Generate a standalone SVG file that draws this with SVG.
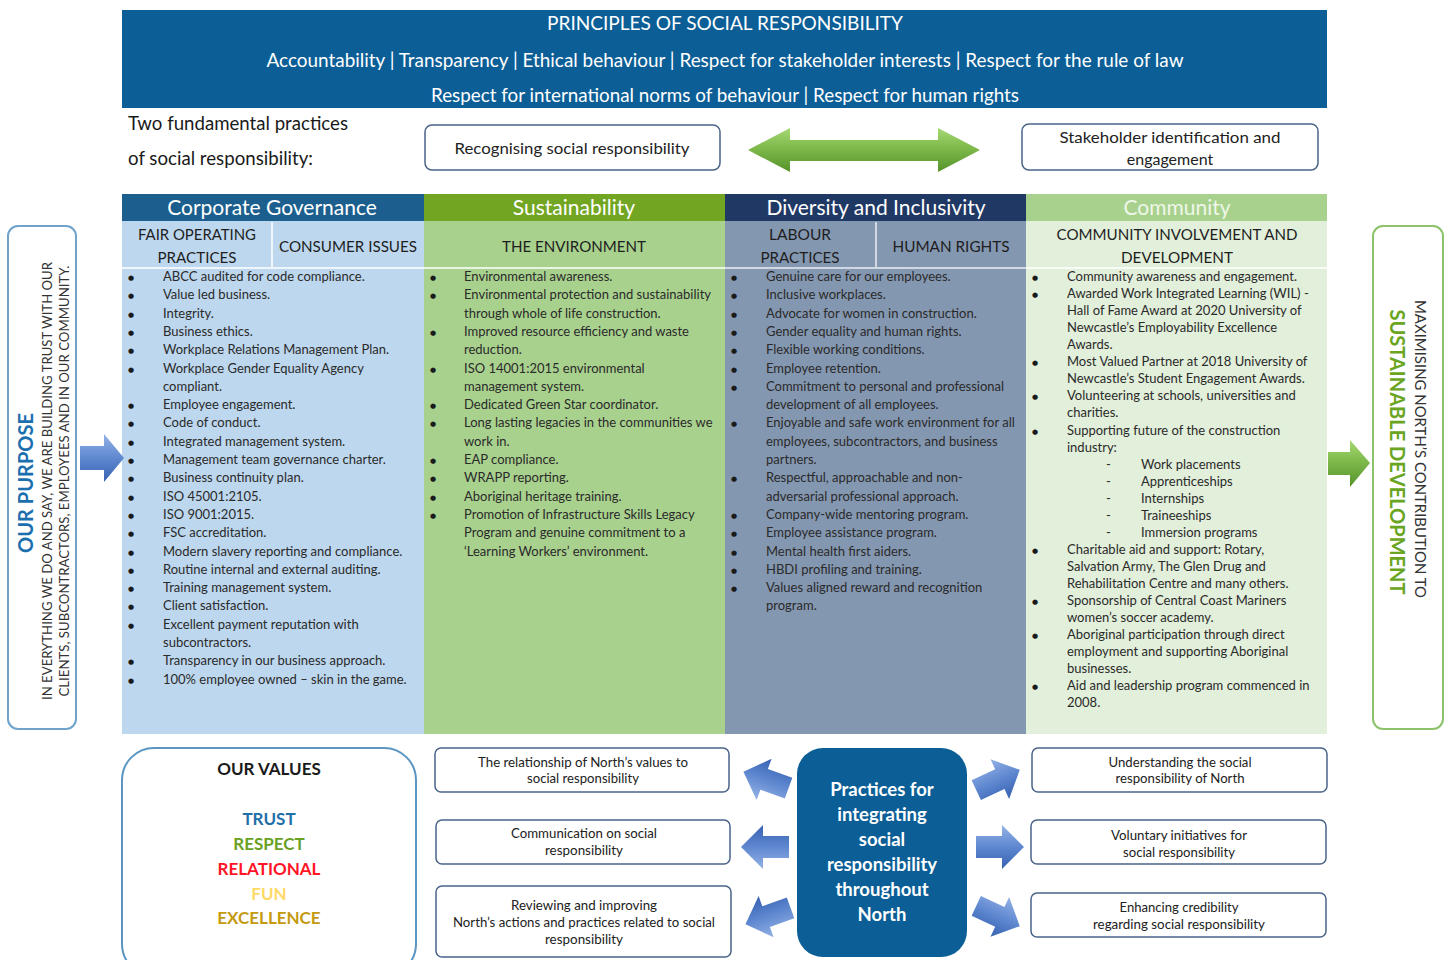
<svg xmlns="http://www.w3.org/2000/svg" width="1450" height="960" viewBox="0 0 1450 960">
  <defs>
    <style>
      .f { font-family: Lato, "Open Sans", "Liberation Sans", sans-serif; }
      .ban { font-family: Lato, "Liberation Sans", sans-serif; fill: #ffffff; font-size: 19px; text-anchor: middle; }
      .hd { font-family: Lato, "Liberation Sans", sans-serif; fill: #ffffff; font-size: 21px; text-anchor: middle; }
      .sub { font-family: Lato, "Liberation Sans", sans-serif; fill: #1e1e1e; font-size: 16px; text-anchor: middle; }
      .li { font-family: Lato, "Liberation Sans", sans-serif; fill: #2a2a2a; font-size: 13px; }
      .bul { font-family: "DejaVu Sans", sans-serif; fill: #1a1a1a; font-size: 7px; }
      .box { fill: #ffffff; stroke: #4a6488; stroke-width: 1.5; }
      .bt { font-family: Lato, "Liberation Sans", sans-serif; fill: #222222; font-size: 12.5px; text-anchor: middle; }
      .val { font-family: Lato, "Liberation Sans", sans-serif; font-weight: 700; font-size: 17px; text-anchor: middle; }
      .ctr { font-family: Lato, "Liberation Sans", sans-serif; font-weight: 700; fill: #ffffff; font-size: 18.5px; text-anchor: middle; }
    </style>
    <linearGradient id="blueArrow" x1="0" y1="0" x2="0" y2="1">
      <stop offset="0" stop-color="#94b2e6"/>
      <stop offset="0.5" stop-color="#5f88d0"/>
      <stop offset="1" stop-color="#3761b2"/>
    </linearGradient>
    <linearGradient id="greenArrow" x1="0" y1="0" x2="0" y2="1">
      <stop offset="0" stop-color="#a6d873"/>
      <stop offset="0.5" stop-color="#7ab648"/>
      <stop offset="1" stop-color="#56932a"/>
    </linearGradient>
    <path id="blockArrow" d="M-24,-11 L2,-11 L2,-22 L24,0 L2,22 L2,11 L-24,11 Z"/>
  </defs>

  <rect width="1450" height="960" fill="#ffffff"/>

  <!-- principles banner -->
  <g id="principles">
    <rect x="122" y="10" width="1205" height="98" fill="#0b5e96"/>
    <text class="ban" x="725" y="30" textLength="356" lengthAdjust="spacingAndGlyphs">PRINCIPLES OF SOCIAL RESPONSIBILITY</text>
    <text class="ban" x="725" y="67" textLength="917" lengthAdjust="spacingAndGlyphs">Accountability | Transparency | Ethical behaviour | Respect for stakeholder interests | Respect for the rule of law</text>
    <text class="ban" x="725" y="102" textLength="588" lengthAdjust="spacingAndGlyphs">Respect for international norms of behaviour | Respect for human rights</text>
  </g>

  <!-- fundamental practices -->
  <g id="fundamental-label">
    <text class="f" x="128" y="130" font-size="18.5" fill="#1a1a1a" textLength="220" lengthAdjust="spacingAndGlyphs">Two fundamental practices</text>
    <text class="f" x="128" y="165" font-size="18.5" fill="#1a1a1a" textLength="185" lengthAdjust="spacingAndGlyphs">of social responsibility:</text>
  </g>
  <g id="recognising">
    <rect class="box" x="425" y="125" width="295" height="45" rx="7"/>
    <text class="f" x="572" y="154" font-size="16" fill="#222" text-anchor="middle" textLength="235" lengthAdjust="spacingAndGlyphs">Recognising social responsibility</text>
  </g>
  <g id="stakeholder">
    <rect class="box" x="1022" y="124" width="296" height="46" rx="7"/>
    <text class="f" x="1170" y="143" font-size="16" fill="#222" text-anchor="middle" textLength="221" lengthAdjust="spacingAndGlyphs">Stakeholder identification and</text>
    <text class="f" x="1170" y="165" font-size="16" fill="#222" text-anchor="middle">engagement</text>
  </g>

  <!-- column: corporate governance -->
  <g id="col-governance">
    <rect x="122" y="194" width="302" height="540" fill="#bdd7ee"/>
    <rect x="122" y="194" width="302" height="27" fill="#1c5f8e"/>
    <text class="hd" x="272" y="215">Corporate Governance</text>
    <line x1="272" y1="222" x2="272" y2="267" stroke="#ffffff" stroke-width="1.5"/>
    <line x1="122" y1="268" x2="424" y2="268" stroke="#ffffff" stroke-width="1.5"/>
    <text class="sub" x="197" y="240" textLength="118" lengthAdjust="spacingAndGlyphs">FAIR OPERATING</text>
    <text class="sub" x="197" y="263" textLength="79" lengthAdjust="spacingAndGlyphs">PRACTICES</text>
    <text class="sub" x="348" y="252" textLength="138" lengthAdjust="spacingAndGlyphs">CONSUMER ISSUES</text>
    <text class="bul">
      <tspan x="128" y="280">●</tspan><tspan x="128" y="298.3">●</tspan><tspan x="128" y="316.6">●</tspan><tspan x="128" y="334.9">●</tspan><tspan x="128" y="353.2">●</tspan><tspan x="128" y="371.5">●</tspan><tspan x="128" y="408.1">●</tspan><tspan x="128" y="426.4">●</tspan><tspan x="128" y="444.7">●</tspan><tspan x="128" y="463">●</tspan><tspan x="128" y="481.3">●</tspan><tspan x="128" y="499.6">●</tspan><tspan x="128" y="517.9">●</tspan><tspan x="128" y="536.2">●</tspan><tspan x="128" y="554.5">●</tspan><tspan x="128" y="572.8">●</tspan><tspan x="128" y="591.1">●</tspan><tspan x="128" y="609.4">●</tspan><tspan x="128" y="627.7">●</tspan><tspan x="128" y="664.3">●</tspan><tspan x="128" y="682.6">●</tspan>
    </text>
    <text class="li">
      <tspan x="163" y="281">ABCC audited for code compliance.</tspan>
      <tspan x="163" y="299.3">Value led business.</tspan>
      <tspan x="163" y="317.6">Integrity.</tspan>
      <tspan x="163" y="335.9">Business ethics.</tspan>
      <tspan x="163" y="354.2">Workplace Relations Management Plan.</tspan>
      <tspan x="163" y="372.5">Workplace Gender Equality Agency</tspan>
      <tspan x="163" y="390.8">compliant.</tspan>
      <tspan x="163" y="409.1">Employee engagement.</tspan>
      <tspan x="163" y="427.4">Code of conduct.</tspan>
      <tspan x="163" y="445.7">Integrated management system.</tspan>
      <tspan x="163" y="464">Management team governance charter.</tspan>
      <tspan x="163" y="482.3">Business continuity plan.</tspan>
      <tspan x="163" y="500.6">ISO 45001:2105.</tspan>
      <tspan x="163" y="518.9">ISO 9001:2015.</tspan>
      <tspan x="163" y="537.2">FSC accreditation.</tspan>
      <tspan x="163" y="555.5">Modern slavery reporting and compliance.</tspan>
      <tspan x="163" y="573.8">Routine internal and external auditing.</tspan>
      <tspan x="163" y="592.1">Training management system.</tspan>
      <tspan x="163" y="610.4">Client satisfaction.</tspan>
      <tspan x="163" y="628.7">Excellent payment reputation with</tspan>
      <tspan x="163" y="647">subcontractors.</tspan>
      <tspan x="163" y="665.3">Transparency in our business approach.</tspan>
      <tspan x="163" y="683.6">100% employee owned – skin in the game.</tspan>
    </text>
  </g>

  <!-- column: sustainability -->
  <g id="col-sustainability">
    <rect x="424" y="194" width="301" height="540" fill="#a9d18e"/>
    <rect x="424" y="194" width="301" height="27" fill="#72a622"/>
    <text class="hd" x="574" y="215">Sustainability</text>
    <line x1="424" y1="268" x2="725" y2="268" stroke="#ffffff" stroke-width="1.5"/>
    <text class="sub" x="574" y="252" textLength="144" lengthAdjust="spacingAndGlyphs">THE ENVIRONMENT</text>
    <text class="bul">
      <tspan x="430" y="280">●</tspan><tspan x="430" y="298.3">●</tspan><tspan x="430" y="334.9">●</tspan><tspan x="430" y="371.5">●</tspan><tspan x="430" y="408.1">●</tspan><tspan x="430" y="426.4">●</tspan><tspan x="430" y="463">●</tspan><tspan x="430" y="481.3">●</tspan><tspan x="430" y="499.6">●</tspan><tspan x="430" y="517.9">●</tspan>
    </text>
    <text class="li">
      <tspan x="464" y="281">Environmental awareness.</tspan>
      <tspan x="464" y="299.3">Environmental protection and sustainability</tspan>
      <tspan x="464" y="317.6">through whole of life construction.</tspan>
      <tspan x="464" y="335.9">Improved resource efficiency and waste</tspan>
      <tspan x="464" y="354.2">reduction.</tspan>
      <tspan x="464" y="372.5">ISO 14001:2015 environmental</tspan>
      <tspan x="464" y="390.8">management system.</tspan>
      <tspan x="464" y="409.1">Dedicated Green Star coordinator.</tspan>
      <tspan x="464" y="427.4">Long lasting legacies in the communities we</tspan>
      <tspan x="464" y="445.7">work in.</tspan>
      <tspan x="464" y="464">EAP compliance.</tspan>
      <tspan x="464" y="482.3">WRAPP reporting.</tspan>
      <tspan x="464" y="500.6">Aboriginal heritage training.</tspan>
      <tspan x="464" y="518.9">Promotion of Infrastructure Skills Legacy</tspan>
      <tspan x="464" y="537.2">Program and genuine commitment to a</tspan>
      <tspan x="464" y="555.5">‘Learning Workers’ environment.</tspan>
    </text>
  </g>

  <!-- column: diversity and inclusivity -->
  <g id="col-diversity">
    <rect x="725" y="194" width="301" height="540" fill="#8497b0"/>
    <rect x="725" y="194" width="301" height="27" fill="#1f3864"/>
    <text class="hd" x="876" y="215">Diversity and Inclusivity</text>
    <line x1="876" y1="222" x2="876" y2="267" stroke="#e8edf3" stroke-width="1.5"/>
    <line x1="725" y1="268" x2="1026" y2="268" stroke="#e8edf3" stroke-width="1.5"/>
    <text class="sub" x="800" y="240" textLength="62" lengthAdjust="spacingAndGlyphs">LABOUR</text>
    <text class="sub" x="800" y="263" textLength="79" lengthAdjust="spacingAndGlyphs">PRACTICES</text>
    <text class="sub" x="951" y="252" textLength="117" lengthAdjust="spacingAndGlyphs">HUMAN RIGHTS</text>
    <text class="bul">
      <tspan x="731" y="280">●</tspan><tspan x="731" y="298.3">●</tspan><tspan x="731" y="316.6">●</tspan><tspan x="731" y="334.9">●</tspan><tspan x="731" y="353.2">●</tspan><tspan x="731" y="371.5">●</tspan><tspan x="731" y="389.8">●</tspan><tspan x="731" y="426.4">●</tspan><tspan x="731" y="481.3">●</tspan><tspan x="731" y="517.9">●</tspan><tspan x="731" y="536.2">●</tspan><tspan x="731" y="554.5">●</tspan><tspan x="731" y="572.8">●</tspan><tspan x="731" y="591.1">●</tspan>
    </text>
    <text class="li">
      <tspan x="766" y="281">Genuine care for our employees.</tspan>
      <tspan x="766" y="299.3">Inclusive workplaces.</tspan>
      <tspan x="766" y="317.6">Advocate for women in construction.</tspan>
      <tspan x="766" y="335.9">Gender equality and human rights.</tspan>
      <tspan x="766" y="354.2">Flexible working conditions.</tspan>
      <tspan x="766" y="372.5">Employee retention.</tspan>
      <tspan x="766" y="390.8">Commitment to personal and professional</tspan>
      <tspan x="766" y="409.1">development of all employees.</tspan>
      <tspan x="766" y="427.4">Enjoyable and safe work environment for all</tspan>
      <tspan x="766" y="445.7">employees, subcontractors, and business</tspan>
      <tspan x="766" y="464">partners.</tspan>
      <tspan x="766" y="482.3">Respectful, approachable and non-</tspan>
      <tspan x="766" y="500.6">adversarial professional approach.</tspan>
      <tspan x="766" y="518.9">Company-wide mentoring program.</tspan>
      <tspan x="766" y="537.2">Employee assistance program.</tspan>
      <tspan x="766" y="555.5">Mental health first aiders.</tspan>
      <tspan x="766" y="573.8">HBDI profiling and training.</tspan>
      <tspan x="766" y="592.1">Values aligned reward and recognition</tspan>
      <tspan x="766" y="610.4">program.</tspan>
    </text>
  </g>

  <!-- column: community -->
  <g id="col-community">
    <rect x="1026" y="194" width="301" height="540" fill="#e2efda"/>
    <rect x="1026" y="194" width="301" height="27" fill="#a9d18e"/>
    <text class="hd" x="1177" y="215" style="fill:#eef7e8">Community</text>
    <line x1="1026" y1="268" x2="1327" y2="268" stroke="#ffffff" stroke-width="1.5"/>
    <text class="sub" x="1177" y="240" textLength="241" lengthAdjust="spacingAndGlyphs">COMMUNITY INVOLVEMENT AND</text>
    <text class="sub" x="1177" y="263" textLength="112" lengthAdjust="spacingAndGlyphs">DEVELOPMENT</text>
    <text class="bul">
      <tspan x="1032" y="280">●</tspan><tspan x="1032" y="297">●</tspan><tspan x="1032" y="365.3">●</tspan><tspan x="1032" y="399.4">●</tspan><tspan x="1032" y="433.5">●</tspan><tspan x="1032" y="552.8">●</tspan><tspan x="1032" y="604">●</tspan><tspan x="1032" y="638.1">●</tspan><tspan x="1032" y="689.2">●</tspan>
    </text>
    <text class="li">
      <tspan x="1067" y="281">Community awareness and engagement.</tspan>
      <tspan x="1067" y="298">Awarded Work Integrated Learning (WIL) -</tspan>
      <tspan x="1067" y="315.1">Hall of Fame Award at 2020 University of</tspan>
      <tspan x="1067" y="332.2">Newcastle’s Employability Excellence</tspan>
      <tspan x="1067" y="349.2">Awards.</tspan>
      <tspan x="1067" y="366.3">Most Valued Partner at 2018 University of</tspan>
      <tspan x="1067" y="383.3">Newcastle’s Student Engagement Awards.</tspan>
      <tspan x="1067" y="400.4">Volunteering at schools, universities and</tspan>
      <tspan x="1067" y="417.4">charities.</tspan>
      <tspan x="1067" y="434.5">Supporting future of the construction</tspan>
      <tspan x="1067" y="451.5">industry:</tspan>
      <tspan x="1106" y="468.6">-</tspan><tspan x="1141" y="468.6">Work placements</tspan>
      <tspan x="1106" y="485.6">-</tspan><tspan x="1141" y="485.6">Apprenticeships</tspan>
      <tspan x="1106" y="502.7">-</tspan><tspan x="1141" y="502.7">Internships</tspan>
      <tspan x="1106" y="519.7">-</tspan><tspan x="1141" y="519.7">Traineeships</tspan>
      <tspan x="1106" y="536.8">-</tspan><tspan x="1141" y="536.8">Immersion programs</tspan>
      <tspan x="1067" y="553.8">Charitable aid and support: Rotary,</tspan>
      <tspan x="1067" y="570.9">Salvation Army, The Glen Drug and</tspan>
      <tspan x="1067" y="587.9">Rehabilitation Centre and many others.</tspan>
      <tspan x="1067" y="605">Sponsorship of Central Coast Mariners</tspan>
      <tspan x="1067" y="622">women’s soccer academy.</tspan>
      <tspan x="1067" y="639.1">Aboriginal participation through direct</tspan>
      <tspan x="1067" y="656.1">employment and supporting Aboriginal</tspan>
      <tspan x="1067" y="673.2">businesses.</tspan>
      <tspan x="1067" y="690.2">Aid and leadership program commenced in</tspan>
      <tspan x="1067" y="707.3">2008.</tspan>
    </text>
  </g>

  <!-- purpose panel (left) -->
  <g id="purpose">
    <rect x="8" y="226" width="68" height="503" rx="10" fill="#ffffff" stroke="#6fa3cc" stroke-width="2"/>
    <text class="f" transform="translate(33,483) rotate(-90)" text-anchor="middle" font-size="20" font-weight="700" fill="#1c6fae">OUR PURPOSE</text>
    <text class="f" transform="translate(52,481) rotate(-90)" text-anchor="middle" font-size="12.5" fill="#333" textLength="438" lengthAdjust="spacingAndGlyphs">IN EVERYTHING WE DO AND SAY, WE ARE BUILDING TRUST WITH OUR</text>
    <text class="f" transform="translate(69,481) rotate(-90)" text-anchor="middle" font-size="12.5" fill="#333" textLength="431" lengthAdjust="spacingAndGlyphs">CLIENTS, SUBCONTRACTORS, EMPLOYEES AND IN OUR COMMUNITY.</text>
  </g>

  <!-- sustainable development panel (right) -->
  <g id="sustainable-development">
    <rect x="1373" y="226" width="70" height="503" rx="10" fill="#ffffff" stroke="#8cc36a" stroke-width="2"/>
    <text class="f" transform="translate(1415,449) rotate(90)" text-anchor="middle" font-size="15" fill="#333" textLength="298" lengthAdjust="spacingAndGlyphs">MAXIMISING NORTH’S CONTRIBUTION TO</text>
    <text class="f" transform="translate(1390,452) rotate(90)" text-anchor="middle" font-size="20" font-weight="700" fill="#6aa522" textLength="285" lengthAdjust="spacingAndGlyphs">SUSTAINABLE DEVELOPMENT</text>
  </g>

  <!-- values -->
  <g id="values">
    <rect x="122" y="748" width="294" height="228" rx="32" fill="#ffffff" stroke="#5b95c2" stroke-width="2"/>
    <text class="val" x="269" y="775" fill="#1a1a1a">OUR VALUES</text>
    <text class="val" x="269" y="825" fill="#1f6fa8">TRUST</text>
    <text class="val" x="269" y="850" fill="#6aa123">RESPECT</text>
    <text class="val" x="269" y="875" fill="#ff1525">RELATIONAL</text>
    <text class="val" x="269" y="900" fill="#ffd966">FUN</text>
    <text class="val" x="269" y="924" fill="#c49a10">EXCELLENCE</text>
  </g>

  <!-- practice boxes -->
  <g id="p-values">
    <rect class="box" x="435" y="748" width="294" height="44" rx="6"/>
    <text class="bt" x="583" y="767" textLength="210" lengthAdjust="spacingAndGlyphs">The relationship of North’s values to</text>
    <text class="bt" x="583" y="783" textLength="112" lengthAdjust="spacingAndGlyphs">social responsibility</text>
  </g>
  <g id="p-communication">
    <rect class="box" x="436" y="820" width="294" height="44" rx="6"/>
    <text class="bt" x="584" y="838" textLength="146" lengthAdjust="spacingAndGlyphs">Communication on social</text>
    <text class="bt" x="584" y="855" textLength="78" lengthAdjust="spacingAndGlyphs">responsibility</text>
  </g>
  <g id="p-reviewing">
    <rect class="box" x="436" y="886" width="295" height="71" rx="6"/>
    <text class="bt" x="584" y="910" textLength="146" lengthAdjust="spacingAndGlyphs">Reviewing and improving</text>
    <text class="bt" x="584" y="927" textLength="262" lengthAdjust="spacingAndGlyphs">North’s actions and practices related to social</text>
    <text class="bt" x="584" y="944" textLength="78" lengthAdjust="spacingAndGlyphs">responsibility</text>
  </g>
  <g id="p-centre">
    <rect x="797" y="748" width="170" height="209" rx="26" fill="#0b5e96"/>
    <text class="ctr" x="882" y="796">Practices for</text>
    <text class="ctr" x="882" y="821">integrating</text>
    <text class="ctr" x="882" y="846">social</text>
    <text class="ctr" x="882" y="871">responsibility</text>
    <text class="ctr" x="882" y="896">throughout</text>
    <text class="ctr" x="882" y="921">North</text>
  </g>
  <g id="p-understanding">
    <rect class="box" x="1032" y="748" width="295" height="44" rx="6"/>
    <text class="bt" x="1180" y="767" textLength="143" lengthAdjust="spacingAndGlyphs">Understanding the social</text>
    <text class="bt" x="1180" y="783" textLength="129" lengthAdjust="spacingAndGlyphs">responsibility of North</text>
  </g>
  <g id="p-voluntary">
    <rect class="box" x="1031" y="820" width="295" height="44" rx="6"/>
    <text class="bt" x="1179" y="840" textLength="136" lengthAdjust="spacingAndGlyphs">Voluntary initiatives for</text>
    <text class="bt" x="1179" y="857" textLength="112" lengthAdjust="spacingAndGlyphs">social responsibility</text>
  </g>
  <g id="p-credibility">
    <rect class="box" x="1031" y="893" width="295" height="44" rx="6"/>
    <text class="bt" x="1179" y="912" textLength="119" lengthAdjust="spacingAndGlyphs">Enhancing credibility</text>
    <text class="bt" x="1179" y="929" textLength="172" lengthAdjust="spacingAndGlyphs">regarding social responsibility</text>
  </g>

  <!-- connectors -->
  <g id="connectors">
    <path d="M748,150 L790,128 L790,140 L938,140 L938,128 L980,150 L938,172 L938,161 L790,161 L790,172 Z" fill="url(#greenArrow)"/>
    <path d="M80,446 L104,446 L104,434 L124,458 L104,482 L104,470 L80,470 Z" fill="url(#blueArrow)"/>
    <path d="M1328,452 L1350,452 L1350,440 L1370,463 L1350,487 L1350,475 L1328,475 Z" fill="url(#greenArrow)"/>
    <use href="#blockArrow" fill="url(#blueArrow)" transform="translate(766,780) rotate(-160)"/>
    <use href="#blockArrow" fill="url(#blueArrow)" transform="translate(765,847) rotate(180)"/>
    <use href="#blockArrow" fill="url(#blueArrow)" transform="translate(768,916) rotate(160)"/>
    <use href="#blockArrow" fill="url(#blueArrow)" transform="translate(998,780) rotate(-25)"/>
    <use href="#blockArrow" fill="url(#blueArrow)" transform="translate(1000,847)"/>
    <use href="#blockArrow" fill="url(#blueArrow)" transform="translate(998,916) rotate(25)"/>
  </g>
</svg>
